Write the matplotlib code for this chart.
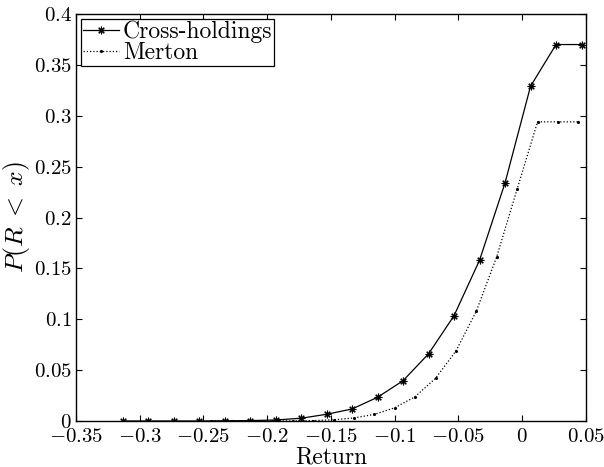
import matplotlib
matplotlib.use("Agg")
import matplotlib.pyplot as plt

plt.rcParams["font.family"] = "serif"
plt.rcParams["font.serif"] = ["cmr10", "DejaVu Serif"]
plt.rcParams["mathtext.fontset"] = "cm"
plt.rcParams["axes.unicode_minus"] = False

# Cross-holdings
x_cross = [-0.3135, -0.2935, -0.2735, -0.2535, -0.2335, -0.2135, -0.1935, -0.1735,
           -0.1535, -0.1335, -0.1135, -0.0935, -0.0735, -0.0535, -0.0335, -0.0135,
           0.0065, 0.0265, 0.0465]
y_cross = [0.0, 0.0, 0.0, 0.0, 0.0002, 0.0004, 0.001, 0.0027,
           0.0066, 0.0118, 0.0233, 0.0396, 0.066, 0.1035, 0.158, 0.234,
           0.329, 0.370, 0.370]

# Merton
x_merton = [-0.244, -0.228, -0.212, -0.196, -0.180, -0.164, -0.148, -0.132, -0.116,
            -0.100, -0.084, -0.068, -0.052, -0.036, -0.020, -0.004, 0.012, 0.028, 0.044]
y_merton = [0.0, 0.0, 0.0, 0.0, 0.0001, 0.0004, 0.0012, 0.003, 0.0065,
            0.013, 0.0239, 0.042, 0.0688, 0.108, 0.1615, 0.228, 0.294, 0.294, 0.294]

xticks = [-0.35, -0.3, -0.25, -0.2, -0.15, -0.1, -0.05, 0, 0.05]
yticks = [0, 0.05, 0.1, 0.15, 0.2, 0.25, 0.3, 0.35, 0.4]

fig = plt.figure(figsize=(6.04, 4.67), dpi=100)
ax = fig.add_axes([0.1258, 0.0985, 0.8444, 0.8715])

ax.plot(x_cross, y_cross, color="black", linewidth=0.9, marker=(8, 2, 0),
        markersize=5.5, markeredgewidth=0.8, label="Cross-holdings")
ax.plot(x_merton, y_merton, color="black", linewidth=0.9, linestyle=(0, (1, 1.6)),
        marker=".", markersize=2.5, label="Merton")

ax.set_xlim(-0.35, 0.05)
ax.set_ylim(0, 0.4)
ax.set_xticks(xticks)
ax.set_xticklabels([r"$%g$" % t for t in xticks])
ax.set_yticks(yticks)
ax.set_yticklabels([r"$%g$" % t for t in yticks])
ax.tick_params(direction="in", top=True, right=True, labelsize=15, length=4)
ax.tick_params(axis="x", pad=5)
ax.tick_params(axis="y", pad=3)
for s in ax.spines.values():
    s.set_linewidth(1.0)

ax.set_xlabel("Return", fontsize=17, labelpad=0)
ax.set_ylabel(r"$P(R\;<\;x)$", fontsize=18.5, labelpad=1)

leg = ax.legend(loc="upper left", fontsize=17, fancybox=False, framealpha=1,
                edgecolor="black", borderpad=0.08, labelspacing=-0.05,
                handlelength=1.55, handletextpad=0.15, borderaxespad=0.2)
leg.get_frame().set_linewidth(0.9)

fig.savefig("out.png", dpi=100)
